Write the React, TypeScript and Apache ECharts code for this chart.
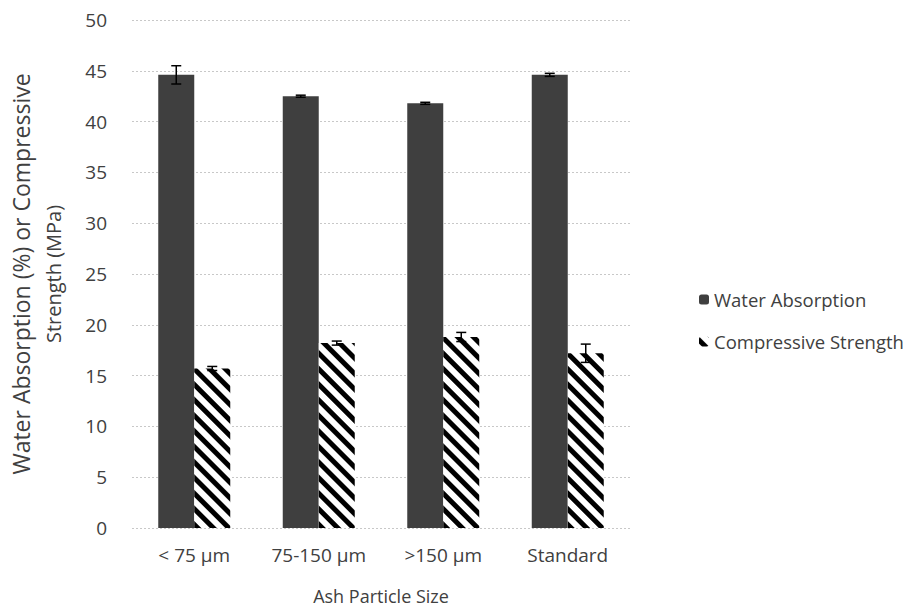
import React, { useEffect, useRef } from "react";
import * as echarts from "echarts";

const categories = ["< 75 µm", "75-150 µm", ">150 µm", "Standard"];
const waterAbsorption = [44.6, 42.5, 41.8, 44.6];
const waterError = [0.9, 0.1, 0.1, 0.15];
const compressiveStrength = [15.7, 18.2, 18.8, 17.2];
const compressiveError = [0.2, 0.2, 0.45, 0.9];
const yTicks = { min: 0, max: 50, interval: 5 };

const FONT = "Open Sans";
const BAR_W = 36;

function errorSeries(values: number[], errors: number[], offset: number) {
  return {
    type: "custom",
    silent: true,
    z: 10,
    data: values.map((v, i) => [i, v - errors[i], v + errors[i]]),
    renderItem: (_params: any, api: any) => {
      const lo = api.coord([api.value(0), api.value(1)]);
      const hi = api.coord([api.value(0), api.value(2)]);
      const x = lo[0] + offset;
      const cap = 5;
      const style = { stroke: "#000", lineWidth: 1.5 };
      return {
        type: "group",
        children: [
          { type: "line", shape: { x1: x, y1: lo[1], x2: x, y2: hi[1] }, style },
          { type: "line", shape: { x1: x - cap, y1: hi[1], x2: x + cap, y2: hi[1] }, style },
          { type: "line", shape: { x1: x - cap, y1: lo[1], x2: x + cap, y2: lo[1] }, style },
        ],
      };
    },
  };
}

export default function App() {
  const ref = useRef<HTMLDivElement>(null);
  useEffect(() => {
    if (!ref.current) return;
    const chart = echarts.init(ref.current, undefined, { renderer: "svg" });
    const stripeDecal = {
      symbol: "rect",
      color: "#000",
      dashArrayX: [1, 0],
      dashArrayY: [5, 6],
      rotation: Math.PI / 4,
      symbolSize: 1,
    };
    chart.setOption({
      animation: false,
      backgroundColor: "#fff",
      textStyle: { fontFamily: FONT },
      grid: { left: 132, right: 281, top: 20, bottom: 82, containLabel: false, outerBoundsMode: "none" },
      legend: {
        orient: "vertical",
        left: 699,
        top: 290,
        padding: 0,
        itemGap: 23,
        itemWidth: 10,
        itemHeight: 10,
        textStyle: { fontSize: 18.5, color: "#404040", fontFamily: FONT },
        data: ["Water Absorption", "Compressive Strength"],
      },
      xAxis: {
        type: "category",
        data: categories,
        axisLine: { show: false },
        axisTick: { show: false },
        axisLabel: { fontSize: 19, color: "#404040", margin: 17 },
        name: "Ash Particle Size",
        nameLocation: "middle",
        nameGap: 59,
        nameTextStyle: { fontSize: 18, color: "#404040" },
      },
      yAxis: {
        type: "value",
        min: yTicks.min,
        max: yTicks.max,
        interval: yTicks.interval,
        axisLine: { show: false },
        axisTick: { show: false },
        axisLabel: { fontSize: 19, color: "#404040", margin: 25 },
        splitLine: { lineStyle: { color: "#c8c8c8", type: [2, 2], width: 1 } },
        name: "{a|Water Absorption (%) or Compressive}\n{b|Strength (MPa)}",
        nameLocation: "middle",
        nameGap: 62,
        nameTextStyle: {
          color: "#404040",
          align: "center",
          rich: {
            a: { fontSize: 23, lineHeight: 33, color: "#404040", fontFamily: FONT },
            b: { fontSize: 20, lineHeight: 33, color: "#404040", fontFamily: FONT },
          },
        },
      },
      series: [
        {
          name: "Water Absorption",
          type: "bar",
          data: waterAbsorption,
          barWidth: BAR_W,
          barGap: "0%",
          itemStyle: { color: "#3f3f3f" },
        },
        {
          name: "Compressive Strength",
          type: "bar",
          data: compressiveStrength,
          barWidth: BAR_W,
          barGap: "0%",
          itemStyle: { color: "#fff", decal: stripeDecal },
        },
        errorSeries(waterAbsorption, waterError, -BAR_W / 2),
        errorSeries(compressiveStrength, compressiveError, BAR_W / 2),
      ],
    });
    return () => chart.dispose();
  }, []);
  return (
    <div
      ref={ref}
      style={{ position: "fixed", left: 0, top: 0, width: 911, height: 610 }}
    />
  );
}
